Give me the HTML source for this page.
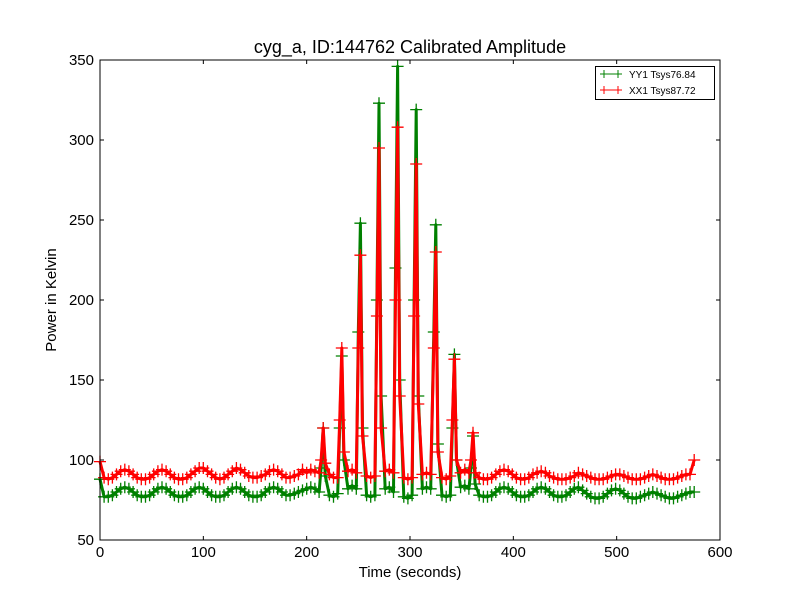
<!DOCTYPE html>
<html><head><meta charset="utf-8"><style>
html,body{margin:0;padding:0;background:#fff;}
svg{display:block;font-family:"Liberation Sans","DejaVu Sans",sans-serif;}
</style></head><body>
<svg id="chart" width="800" height="600" viewBox="0 0 800 600">
<rect x="0" y="0" width="800" height="600" fill="#fff"/>
<text x="410" y="53" font-size="18" text-anchor="middle">cyg_a, ID:144762 Calibrated Amplitude</text>
<g id="series"></g>
<g id="axes"></g>
<rect x="100" y="60" width="620" height="480" fill="none" stroke="#000" stroke-width="1"/>
<text x="410" y="577" font-size="15" text-anchor="middle">Time (seconds)</text>
<text x="56" y="300" font-size="15" text-anchor="middle" transform="rotate(-90 56 300)">Power in Kelvin</text>
<g>
<rect x="595.5" y="66.5" width="119" height="33" fill="#fff" stroke="#000"/>
<g>
<line x1="600" y1="74" x2="622" y2="74" stroke="green"/><line x1="604" y1="70" x2="604" y2="78" stroke="green"/><line x1="618" y1="70" x2="618" y2="78" stroke="green"/>
<text x="629" y="78" font-size="10">YY1 Tsys76.84</text></g>
<g>
<line x1="600" y1="90" x2="622" y2="90" stroke="red"/><line x1="604" y1="86" x2="604" y2="94" stroke="red"/><line x1="618" y1="86" x2="618" y2="94" stroke="red"/>
<text x="629" y="94" font-size="10">XX1 Tsys87.72</text></g>
</g>
</svg>
<script>
const xTicks=[0,100,200,300,400,500,600];
const yTicks=[50,100,150,200,250,300,350];
const times=[0,4,8,12,16,20,24,28,32,36,40,44,48,52,56,60,64,68,72,76,80,84,88,92,96,100,104,108,112,116,120,124,128,132,136,140,144,148,152,156,160,164,168,172,176,180,184,188,192,196,200,204,208,212,
214,216,218,222,226,230,232,234,236,240,244,248,250,252,254,258,262,266,268,270,272,276,280,284,286,288,290,294,298,302,304,306,308,312,316,320,323,325,327,331,335,339,341,343,345,349,353,357,359,361,363,
367,371,375,379,383,387,391,395,399,403,407,411,415,419,423,427,431,435,439,443,447,451,455,459,463,467,471,475,479,483,487,491,495,499,503,507,511,515,519,523,527,531,535,539,543,547,551,555,559,563,567,571,575];
const yy1=[88,77,77,78,80,82,83,82,80,78,77,77,78,80,82,83,82,80,78,77,77,78,80,82,83,82,80,78,77,77,78,80,82,83,82,80,78,77,77,78,80,82,83,82,80,78,78,79,80,81,82,83,82,80,
95,120,90,78,77,79,120,165,100,82,84,82,180,248,120,78,77,78,200,323,140,82,83,80,220,346,150,77,76,78,200,319,140,82,83,82,180,247,110,78,77,78,120,166,100,83,84,82,95,115,85,
78,77,77,78,80,82,83,82,80,78,77,77,78,80,82,83,82,80,78,77,77,78,80,82,83,81,79,77,76,76,77,79,81,82,81,79,77,76,76,77,78,79,80,79,78,77,76,76,77,78,79,80,80];
const xx1=[99,89,88,89,91,93,94,93,91,89,88,88,89,91,93,94,93,91,89,88,88,89,91,93,95,95,93,91,89,88,89,91,93,95,94,92,90,89,89,90,91,93,94,93,91,89,89,90,91,94,92,94,93,92,
100,120,98,91,89,89,125,170,105,93,94,92,170,228,115,90,89,90,190,295,120,93,94,92,200,308,140,89,88,89,190,285,135,91,92,91,170,230,105,89,88,90,125,163,100,92,94,92,100,117,92,
89,88,88,89,91,93,94,93,91,89,88,88,89,91,92,93,92,90,89,88,88,88,89,90,92,91,90,89,88,88,88,89,90,91,91,90,89,88,88,88,89,90,91,90,89,88,88,88,89,90,91,91,100];

const NS='http://www.w3.org/2000/svg';
const X=v=>100+(v-0)/600*620;
const Y=v=>540-(v-50)/300*480;
const axes=document.getElementById('axes');
const ser=document.getElementById('series');
function mk(tag,attrs,parent){const e=document.createElementNS(NS,tag);for(const k in attrs)e.setAttribute(k,attrs[k]);parent.appendChild(e);return e;}
xTicks.forEach(t=>{
  const g=mk('g',{},axes);
  
  
  mk('line',{x1:X(t),y1:540,x2:X(t),y2:536,stroke:'#000'},g);
  mk('line',{x1:X(t),y1:60,x2:X(t),y2:64,stroke:'#000'},g);
  const tx=mk('text',{x:X(t),y:557,'font-size':15,'text-anchor':'middle'},g);tx.textContent=t;
});
yTicks.forEach(t=>{
  const g=mk('g',{},axes);
  
  
  mk('line',{x1:100,y1:Y(t),x2:104,y2:Y(t),stroke:'#000'},g);
  mk('line',{x1:720,y1:Y(t),x2:716,y2:Y(t),stroke:'#000'},g);
  const tx=mk('text',{x:94,y:Y(t)+5,'font-size':15,'text-anchor':'end'},g);tx.textContent=t;
});
function drawSeries(vals,color,name){
  const g=mk('g',{},ser);
  
  
  const pts=times.map((t,i)=>X(t).toFixed(1)+','+Y(vals[i]).toFixed(1)).join(' ');
  const pl=mk('polyline',{points:pts,fill:'none',stroke:color,'stroke-width':3,'stroke-linejoin':'round'},g);
  
  
  let d='';
  times.forEach((t,i)=>{const x=X(t),y=Y(vals[i]);d+=`M${(x-6).toFixed(1)} ${y.toFixed(1)}h12M${x.toFixed(1)} ${(y-6).toFixed(1)}v12`;});
  const m=mk('path',{d:d,stroke:color,'stroke-width':1.3,fill:'none'},g);
  
  
}
drawSeries(yy1,'green','series-yy1');
drawSeries(xx1,'red','series-xx1');
</script>
</body></html>
